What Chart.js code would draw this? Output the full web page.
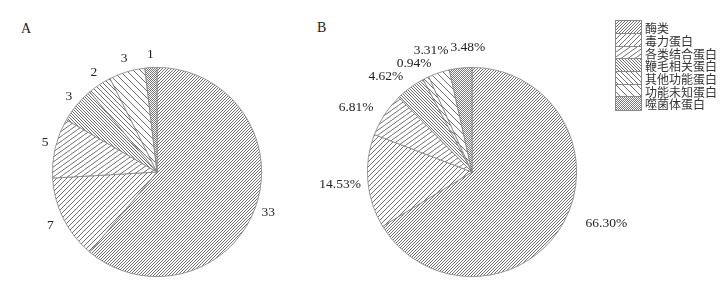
<!DOCTYPE html>
<html>
<head>
<meta charset="utf-8">
<script src="https://cdn.jsdelivr.net/npm/chart.js@4"></script>
<style>
  body { margin: 0; background: #fff; }
  #wrap { position: relative; width: 720px; height: 289px; overflow: hidden; }
  .pane { position: absolute; top: 0; width: 314px; height: 289px; }
  .tag { position: absolute; font: 14px "Liberation Serif", serif; color: #222; }
  #legend { position: absolute; left: 615px; top: 22px; }
  .row { display: flex; align-items: center; height: 12.7px; }
  .row canvas { border: 1px solid #888; margin-top: -1px; box-sizing: border-box; }
  .row span { font: 12px "Noto Sans CJK SC", sans-serif; color: #333; margin-left: 3px; line-height: 12px; }
</style>
</head>
<body>
<div id="wrap">
  <div class="tag" style="left:21px;top:21px">A</div>
  <div class="tag" style="left:317px;top:20px">B</div>
  <div class="pane" style="left:0"><canvas id="pieA"></canvas></div>
  <div class="pane" style="left:315px"><canvas id="pieB"></canvas></div>
  <div id="legend"></div>
</div>
<script>
// categories (clockwise from 12 o'clock)
const categories = ['酶类', '毒力蛋白', '各类结合蛋白', '鞭毛相关蛋白', '其他功能蛋白', '功能未知蛋白', '噬菌体蛋白'];
// A: protein counts
const countsA = [33, 7, 5, 3, 2, 3, 1];
// B: share in percent
const percentB = [66.30, 14.53, 6.81, 4.62, 0.94, 3.31, 3.48];
const labelsA = countsA.map(v => String(v));
const labelsB = percentB.map(v => v.toFixed(2) + '%');

// label nudges (px) for the crowded top of pie B
const nudgeA = [[0, 0], [-4, 0], [0, -2], [0, 0], [0, -1], [0, 0], [0, 0]];
const nudgeB = [[19, -6], [0, 2], [-8, 0], [-10, 0], [-1, -3], [0, -10], [10, -7]];

const INK = '#606060';

// hatch tile: lines from bottom-left to top-right of a w x h tile (dir=1) or mirrored (dir=-1)
function hatch(w, h, dir, color, lw) {
  const c = document.createElement('canvas');
  c.width = w; c.height = h;
  const g = c.getContext('2d');
  g.fillStyle = '#fff';
  g.fillRect(0, 0, w, h);
  g.strokeStyle = color;
  g.lineWidth = lw;
  const seg = (x0, y0, x1, y1) => { g.beginPath(); g.moveTo(x0, y0); g.lineTo(x1, y1); g.stroke(); };
  for (let k = -1; k <= 1; k++) {
    if (dir > 0) seg(k * w, h, (k + 1) * w, 0);
    else seg(k * w, 0, (k + 1) * w, h);
  }
  return c;
}

function cross(s, color) {
  const c = document.createElement('canvas');
  c.width = s; c.height = s;
  const g = c.getContext('2d');
  g.fillStyle = '#fff';
  g.fillRect(0, 0, s, s);
  g.fillStyle = color;
  for (let y = 0; y < s; y++) for (let x = 0; x < s; x++) if ((x + y) % 2 === 0) g.fillRect(x, y, 1, 1);
  return c;
}

const tiles = [
  hatch(3, 3, 1, INK, 0.9),     // 酶类 dense /
  hatch(5, 5, 1, INK, 0.9),     // 毒力蛋白 /
  hatch(7, 5, 1, INK, 0.9),     // 各类结合蛋白 flatter /
  hatch(3, 3, -1, INK, 0.9),    // 鞭毛相关蛋白 dense \
  hatch(5, 5, -1, INK, 0.9),    // 其他功能蛋白 \
  hatch(7, 7, -1, INK, 0.9),    // 功能未知蛋白 sparse \
  cross(4, '#7a7a7a')           // 噬菌体蛋白 checker
];

const ctxTmp = document.createElement('canvas').getContext('2d');
const fills = tiles.map(t => ctxTmp.createPattern(t, 'repeat'));

const outLabels = {
  id: 'outLabels',
  afterDatasetsDraw(chart, args, opts) {
    const ctx = chart.ctx;
    const meta = chart.getDatasetMeta(0);
    ctx.save();
    ctx.font = '13.5px "Liberation Serif", serif';
    ctx.fillStyle = '#222';
    ctx.textAlign = 'center';
    ctx.textBaseline = 'middle';
    meta.data.forEach((arc, i) => {
      const p = arc.getProps(['x', 'y', 'startAngle', 'endAngle', 'outerRadius'], true);
      const a = (p.startAngle + p.endAngle) / 2;
      const dx = Math.cos(a), dy = Math.sin(a);
      const txt = opts.texts[i];
      const w = ctx.measureText(txt).width;
      const r = p.outerRadius + 7;
      const x = p.x + dx * r + dx * w / 2 + opts.nudge[i][0];
      const y = p.y + dy * r + dy * 6.5 + opts.nudge[i][1];
      ctx.fillText(txt, x, y);
    });
    ctx.restore();
  }
};

function makePie(id, values, texts, nudge) {
  new Chart(document.getElementById(id), {
    type: 'pie',
    data: {
      labels: categories,
      datasets: [{ data: values, backgroundColor: fills, borderColor: '#808080', borderWidth: 0.8 }]
    },
    options: {
      responsive: true,
      maintainAspectRatio: false,
      animation: false,
      layout: { padding: { left: 52, right: 52, top: 67, bottom: 12 } },
      plugins: {
        legend: { display: false },
        tooltip: { enabled: false },
        outLabels: { texts, nudge }
      }
    },
    plugins: [outLabels]
  });
}

makePie('pieA', countsA, labelsA, nudgeA);
makePie('pieB', percentB, labelsB, nudgeB);

// legend with pattern swatches
const legend = document.getElementById('legend');
categories.forEach((name, i) => {
  const row = document.createElement('div');
  row.className = 'row';
  const sw = document.createElement('canvas');
  sw.width = 25; sw.height = 13;
  const g = sw.getContext('2d');
  g.fillStyle = g.createPattern(tiles[i], 'repeat');
  g.fillRect(0, 0, 25, 13);
  const label = document.createElement('span');
  label.textContent = name;
  row.appendChild(sw);
  row.appendChild(label);
  legend.appendChild(row);
});
</script>
</body>
</html>
